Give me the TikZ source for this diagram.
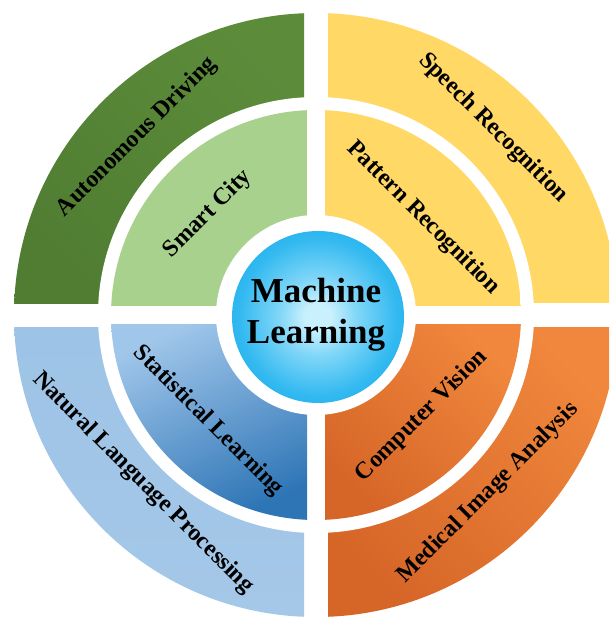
\documentclass[tikz,border=0pt]{standalone}
\usepackage{fontspec}
\setmainfont{Liberation Serif}
\definecolor{gOutD}{RGB}{80,125,50}
\definecolor{gOutL}{RGB}{92,140,58}
\definecolor{gIn}{RGB}{169,209,142}
\definecolor{yel}{RGB}{255,216,102}
\definecolor{orL}{RGB}{240,135,60}
\definecolor{orD}{RGB}{214,102,40}
\definecolor{blOut}{RGB}{157,195,230}
\definecolor{blInL}{RGB}{160,198,234}
\definecolor{blInD}{RGB}{46,117,182}
\definecolor{ballA}{RGB}{200,240,253}
\definecolor{ballB}{RGB}{130,215,248}
\definecolor{ballC}{RGB}{50,185,240}
\definecolor{ballD}{RGB}{8,162,230}
\definecolor{ballE}{RGB}{0,148,218}
\pgfdeclareradialshading{mlball}{\pgfpoint{0bp}{0bp}}{color(0bp)=(ballA); color(4bp)=(ballA); color(11bp)=(ballB); color(23bp)=(ballC); color(40bp)=(ballD); color(50bp)=(ballE)}
\tikzset{
  lab/.style={font=\fontsize{24}{28}\selectfont\bfseries, text=black, inner sep=0pt},
  ctr/.style={font=\fontsize{35}{41}\selectfont\bfseries, text=black, align=center, inner sep=0pt}
}
\begin{document}
\begin{tikzpicture}[x=1pt,y=-1pt]
\useasboundingbox (0,0) rectangle (609,617);
\fill[white] (0,0) rectangle (609,617);
\clip (0,0) rectangle (609,617);
\coordinate (C) at (316,315);
\coordinate (B) at (318,317);
% outer ring
\begin{scope}
  \clip (C) circle[radius=302pt];
  \shade[top color=gOutL, bottom color=gOutD, shading angle=-45] (14,13) rectangle (304,303);
  \fill[yel] (328,13) rectangle (618,303);
  \shade[top color=blOut, bottom color=blOut!92!white] (14,327) rectangle (304,617);
  \shade[top color=orL, bottom color=orD, shading angle=-45] (328,327) rectangle (618,617);
\end{scope}
\fill[white] (C) circle[radius=218pt];
% inner ring
\begin{scope}
  \clip (C) circle[radius=205pt];
  \fill[gIn] (111,110) rectangle (307,306);
  \fill[yel] (325,110) rectangle (521,306);
  \shade[top color=blInL, bottom color=blInD, shading angle=25] (111,324) rectangle (307,520);
  \shade[top color=orL, bottom color=orD, shading angle=-45] (325,324) rectangle (521,520);
\end{scope}
\fill[white] (C) circle[radius=100pt];
\shade[shading=mlball] (B) circle[radius=86pt];
\node[ctr] (ml) at (316,315) {Machine\\Learning};
% labels
\node[lab, rotate=45] (ad) at (137,137) {Autonomous Driving};
\node[lab, rotate=45] (sc) at (208,214) {Smart City};
\node[lab, rotate=-45] (sr) at (493,128) {Speech Recognition};
\node[lab, rotate=-45] (pr) at (423,218) {Pattern Recognition};
\node[lab, rotate=-45] (sl) at (208,421) {Statistical Learning};
\node[lab, rotate=-45] (nlp) at (143,483) {Natural Language Processing};
\node[lab, rotate=45] (cv) at (422,416) {Computer Vision};
\node[lab, rotate=45] (mia) at (488,493) {Medical Image Analysis};
\end{tikzpicture}
\end{document}
